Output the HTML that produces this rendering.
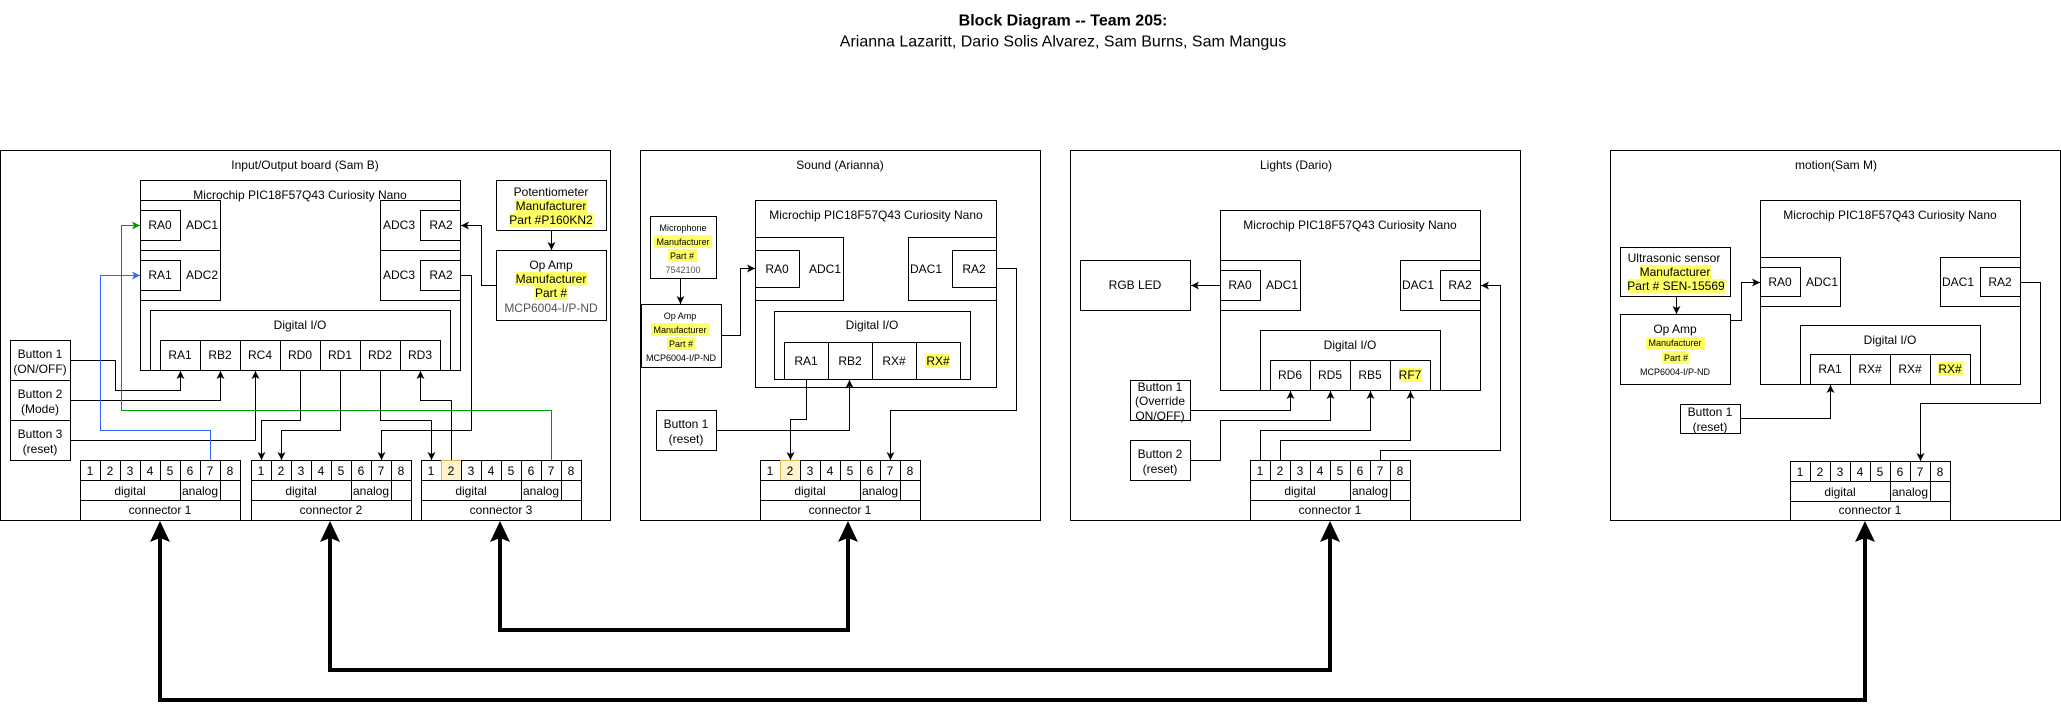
<!DOCTYPE html>
<html><head><meta charset="utf-8"><style>
html,body{margin:0;padding:0;background:#fff;}
svg{display:block;}
text{font-family:"Liberation Sans",Arial,sans-serif;font-size:12px;fill:#000;text-anchor:middle;dominant-baseline:central;}
.r{fill:#fff;stroke:#000;stroke-width:1;}
.w{fill:none;stroke:#000;stroke-width:1;}
.s{font-size:9px;}
.hl{fill:#ffff66;stroke:none;}
.g{fill:#555;}
</style></head><body>
<svg width="2061" height="712" viewBox="0 0 2061 712" xmlns="http://www.w3.org/2000/svg">
<defs>
<marker id="a" markerWidth="8" markerHeight="8" refX="8" refY="4" orient="auto" markerUnits="userSpaceOnUse"><path d="M0,0 L8,4 L0,8 L2,4 z" fill="#000"/></marker>
<marker id="ab" markerWidth="8" markerHeight="8" refX="8" refY="4" orient="auto" markerUnits="userSpaceOnUse"><path d="M0,0 L8,4 L0,8 L2,4 z" fill="#3366ff"/></marker>
<marker id="ag" markerWidth="8" markerHeight="8" refX="8" refY="4" orient="auto" markerUnits="userSpaceOnUse"><path d="M0,0 L8,4 L0,8 L2,4 z" fill="#009900"/></marker>
</defs>

<text x="1063" y="21" style="font-size:16px;font-weight:bold">Block Diagram -- Team 205:</text>
<text x="1063" y="42" style="font-size:16px">Arianna Lazaritt, Dario Solis Alvarez, Sam Burns, Sam Mangus</text>

<!-- ========== PANEL 1 ========== -->
<rect class="r" x="0.5" y="150.5" width="610" height="370"/>
<text x="305" y="165">Input/Output board (Sam B)</text>
<rect class="r" x="140.5" y="180.5" width="320" height="190"/>
<text x="300" y="195">Microchip PIC18F57Q43 Curiosity Nano</text>
<rect class="r" x="140.5" y="200.5" width="80" height="50"/>
<rect class="r" x="140.5" y="210.5" width="40" height="30"/><text x="160" y="225">RA0</text><text x="202" y="225">ADC1</text>
<rect class="r" x="140.5" y="250.5" width="80" height="50"/>
<rect class="r" x="140.5" y="260.5" width="40" height="30"/><text x="160" y="275">RA1</text><text x="202" y="275">ADC2</text>
<rect class="r" x="380.5" y="200.5" width="80" height="50"/>
<rect class="r" x="420.5" y="210.5" width="40" height="30"/><text x="441" y="225">RA2</text><text x="399" y="225">ADC3</text>
<rect class="r" x="380.5" y="250.5" width="80" height="50"/>
<rect class="r" x="420.5" y="260.5" width="40" height="30"/><text x="441" y="275">RA2</text><text x="399" y="275">ADC3</text>
<rect class="r" x="150.5" y="310.5" width="300" height="60"/>
<text x="300" y="325">Digital I/O</text>
<g>
<rect class="r" x="160.5" y="340.5" width="40" height="30"/><text x="180" y="355">RA1</text>
<rect class="r" x="200.5" y="340.5" width="40" height="30"/><text x="220" y="355">RB2</text>
<rect class="r" x="240.5" y="340.5" width="40" height="30"/><text x="260" y="355">RC4</text>
<rect class="r" x="280.5" y="340.5" width="40" height="30"/><text x="300" y="355">RD0</text>
<rect class="r" x="320.5" y="340.5" width="40" height="30"/><text x="340" y="355">RD1</text>
<rect class="r" x="360.5" y="340.5" width="40" height="30"/><text x="380" y="355">RD2</text>
<rect class="r" x="400.5" y="340.5" width="40" height="30"/><text x="420" y="355">RD3</text>
</g>
<rect class="r" x="496.5" y="180.5" width="110" height="50"/>
<text x="551" y="192">Potentiometer</text>
<rect class="hl" x="515" y="199" width="72" height="14"/><text x="551" y="206">Manufacturer</text>
<rect class="hl" x="509" y="213" width="84" height="14"/><text x="551" y="220">Part #P160KN2</text>
<rect class="r" x="496.5" y="250.5" width="110" height="70"/>
<text x="551" y="265">Op Amp</text>
<rect class="hl" x="515" y="272" width="72" height="14"/><text x="551" y="279">Manufacturer</text>
<rect class="hl" x="534" y="286" width="34" height="14"/><text x="551" y="293">Part #</text>
<text x="551" y="308" class="g">MCP6004-I/P-ND</text>

<rect class="r" x="10.5" y="340.5" width="60" height="40"/><text x="40" y="354">Button 1</text><text x="40" y="369">(ON/OFF)</text>
<rect class="r" x="10.5" y="380.5" width="60" height="40"/><text x="40" y="394">Button 2</text><text x="40" y="409">(Mode)</text>
<rect class="r" x="10.5" y="420.5" width="60" height="40"/><text x="40" y="434">Button 3</text><text x="40" y="449">(reset)</text>

<!-- connectors panel 1 -->
<g id="c1">
<rect class="r" x="80.5" y="460.5" width="160" height="60"/>
<rect class="r" x="80.5" y="460.5" width="20" height="20"/><text x="90" y="471">1</text>
<rect class="r" x="100.5" y="460.5" width="20" height="20"/><text x="110" y="471">2</text>
<rect class="r" x="120.5" y="460.5" width="20" height="20"/><text x="130" y="471">3</text>
<rect class="r" x="140.5" y="460.5" width="20" height="20"/><text x="150" y="471">4</text>
<rect class="r" x="160.5" y="460.5" width="20" height="20"/><text x="170" y="471">5</text>
<rect class="r" x="180.5" y="460.5" width="20" height="20"/><text x="190" y="471">6</text>
<rect class="r" x="200.5" y="460.5" width="20" height="20"/><text x="210" y="471">7</text>
<rect class="r" x="220.5" y="460.5" width="20" height="20"/><text x="230" y="471">8</text>
<rect class="r" x="80.5" y="480.5" width="100" height="20"/><text x="130" y="491">digital</text>
<rect class="r" x="180.5" y="480.5" width="40" height="20"/><text x="200" y="491">analog</text>
<rect class="r" x="80.5" y="500.5" width="160" height="20"/><text x="160" y="510">connector 1</text>
</g>
<g transform="translate(171,0)">
<rect class="r" x="80.5" y="460.5" width="160" height="60"/>
<rect class="r" x="80.5" y="460.5" width="20" height="20"/><text x="90" y="471">1</text>
<rect class="r" x="100.5" y="460.5" width="20" height="20"/><text x="110" y="471">2</text>
<rect class="r" x="120.5" y="460.5" width="20" height="20"/><text x="130" y="471">3</text>
<rect class="r" x="140.5" y="460.5" width="20" height="20"/><text x="150" y="471">4</text>
<rect class="r" x="160.5" y="460.5" width="20" height="20"/><text x="170" y="471">5</text>
<rect class="r" x="180.5" y="460.5" width="20" height="20"/><text x="190" y="471">6</text>
<rect class="r" x="200.5" y="460.5" width="20" height="20"/><text x="210" y="471">7</text>
<rect class="r" x="220.5" y="460.5" width="20" height="20"/><text x="230" y="471">8</text>
<rect class="r" x="80.5" y="480.5" width="100" height="20"/><text x="130" y="491">digital</text>
<rect class="r" x="180.5" y="480.5" width="40" height="20"/><text x="200" y="491">analog</text>
<rect class="r" x="80.5" y="500.5" width="160" height="20"/><text x="160" y="510">connector 2</text>
</g>
<g transform="translate(341,0)">
<rect class="r" x="80.5" y="460.5" width="160" height="60"/>
<rect class="r" x="80.5" y="460.5" width="20" height="20"/><text x="90" y="471">1</text>
<rect x="100.5" y="460.5" width="20" height="20" fill="#fff2cc" stroke="#d6b656"/><text x="110" y="471">2</text>
<rect class="r" x="120.5" y="460.5" width="20" height="20"/><text x="130" y="471">3</text>
<rect class="r" x="140.5" y="460.5" width="20" height="20"/><text x="150" y="471">4</text>
<rect class="r" x="160.5" y="460.5" width="20" height="20"/><text x="170" y="471">5</text>
<rect class="r" x="180.5" y="460.5" width="20" height="20"/><text x="190" y="471">6</text>
<rect class="r" x="200.5" y="460.5" width="20" height="20"/><text x="210" y="471">7</text>
<rect class="r" x="220.5" y="460.5" width="20" height="20"/><text x="230" y="471">8</text>
<rect class="r" x="80.5" y="480.5" width="100" height="20"/><text x="130" y="491">digital</text>
<rect class="r" x="180.5" y="480.5" width="40" height="20"/><text x="200" y="491">analog</text>
<rect class="r" x="80.5" y="500.5" width="160" height="20"/><text x="160" y="510">connector 3</text>
</g>

<!-- panel 1 wires -->
<path class="w" d="M70.5,360.5 H115.5 V390.5 H180.5 V371" marker-end="url(#a)"/>
<path class="w" d="M70.5,400.5 H220.5 V371" marker-end="url(#a)"/>
<path class="w" d="M70.5,440.5 H255.5 V371" marker-end="url(#a)"/>
<path d="M210.5,460 V430.5 H100.5 V275.5 H140" fill="none" stroke="#3366ff" marker-end="url(#ab)"/>
<path d="M551.5,460 V410.5 H121.5 V225.5 H140" fill="none" stroke="#009900" marker-end="url(#ag)"/>
<path class="w" d="M300.5,371 V420.5 H261.5 V460" marker-end="url(#a)"/>
<path class="w" d="M340.5,371 V430.5 H281.5 V460" marker-end="url(#a)"/>
<path class="w" d="M380.5,371 V420.5 H431.5 V460" marker-end="url(#a)"/>
<path class="w" d="M461,275.5 H471.5 V430.5 H381.5 V460" marker-end="url(#a)"/>
<path class="w" d="M451.5,460 V400.5 H420.5 V371" marker-end="url(#a)"/>
<path class="w" d="M496,285.5 H481.5 V225.5 H461" marker-end="url(#a)"/>
<path class="w" d="M551.5,231 V250" marker-end="url(#a)"/>

<!-- ========== PANEL 2 ========== -->
<rect class="r" x="640.5" y="150.5" width="400" height="370"/>
<text x="840" y="165">Sound (Arianna)</text>
<rect class="r" x="755.5" y="200.5" width="241" height="187"/>
<text x="876" y="215">Microchip PIC18F57Q43 Curiosity Nano</text>
<rect class="r" x="755.5" y="237.5" width="88" height="63"/>
<rect class="r" x="755.5" y="250.5" width="44" height="37"/><text x="777" y="269">RA0</text><text x="825" y="269">ADC1</text>
<rect class="r" x="908.5" y="237.5" width="88" height="63"/>
<rect class="r" x="952.5" y="250.5" width="44" height="37"/><text x="974" y="269">RA2</text><text x="926" y="269">DAC1</text>
<rect class="r" x="774.5" y="311.5" width="196" height="68"/>
<text x="872" y="325">Digital I/O</text>
<rect class="r" x="784.5" y="342.5" width="44" height="37"/><text x="806" y="361">RA1</text>
<rect class="r" x="828.5" y="342.5" width="44" height="37"/><text x="850" y="361">RB2</text>
<rect class="r" x="872.5" y="342.5" width="44" height="37"/><text x="894" y="361">RX#</text>
<rect class="r" x="916.5" y="342.5" width="44" height="37"/>
<rect class="hl" x="925" y="354" width="24" height="14"/><text x="938" y="361">RX#</text>
<rect class="r" x="650.5" y="216.5" width="66" height="62"/>
<text x="683" y="228" class="s">Microphone</text>
<rect class="hl" x="654" y="235" width="58" height="13"/><text x="683" y="242" class="s">Manufacturer</text>
<rect class="hl" x="668" y="249" width="29" height="13"/><text x="682" y="256" class="s">Part #</text>
<text x="683" y="270" class="s g">7542100</text>
<rect class="r" x="641.5" y="304.5" width="80" height="63"/>
<text x="680" y="316" class="s">Op Amp</text>
<rect class="hl" x="651" y="323" width="59" height="13"/><text x="680" y="330" class="s">Manufacturer</text>
<rect class="hl" x="667" y="337" width="28" height="13"/><text x="681" y="344" class="s">Part #</text>
<text x="681" y="358" class="s">MCP6004-I/P-ND</text>
<rect class="r" x="656.5" y="410.5" width="60" height="40"/><text x="686" y="424">Button 1</text><text x="686" y="439">(reset)</text>
<g transform="translate(680,0)">
<rect class="r" x="80.5" y="460.5" width="160" height="60"/>
<rect class="r" x="80.5" y="460.5" width="20" height="20"/><text x="90" y="471">1</text>
<rect x="100.5" y="460.5" width="20" height="20" fill="#fff2cc" stroke="#d6b656"/><text x="110" y="471">2</text>
<rect class="r" x="120.5" y="460.5" width="20" height="20"/><text x="130" y="471">3</text>
<rect class="r" x="140.5" y="460.5" width="20" height="20"/><text x="150" y="471">4</text>
<rect class="r" x="160.5" y="460.5" width="20" height="20"/><text x="170" y="471">5</text>
<rect class="r" x="180.5" y="460.5" width="20" height="20"/><text x="190" y="471">6</text>
<rect class="r" x="200.5" y="460.5" width="20" height="20"/><text x="210" y="471">7</text>
<rect class="r" x="220.5" y="460.5" width="20" height="20"/><text x="230" y="471">8</text>
<rect class="r" x="80.5" y="480.5" width="100" height="20"/><text x="130" y="491">digital</text>
<rect class="r" x="180.5" y="480.5" width="40" height="20"/><text x="200" y="491">analog</text>
<rect class="r" x="80.5" y="500.5" width="160" height="20"/><text x="160" y="510">connector 1</text>
</g>
<path class="w" d="M680.5,279 V304" marker-end="url(#a)"/>
<path class="w" d="M721,335.5 H740.5 V268.5 H755" marker-end="url(#a)"/>
<path class="w" d="M806.5,380 V419.5 H790.5 V460" marker-end="url(#a)"/>
<path class="w" d="M716,430.5 H849.5 V380" marker-end="url(#a)"/>
<path class="w" d="M997,268.5 H1016.5 V410.5 H890.5 V460" marker-end="url(#a)"/>

<!-- ========== PANEL 3 ========== -->
<rect class="r" x="1070.5" y="150.5" width="450" height="370"/>
<text x="1296" y="165">Lights (Dario)</text>
<rect class="r" x="1220.5" y="210.5" width="260" height="180"/>
<text x="1350" y="225">Microchip PIC18F57Q43 Curiosity Nano</text>
<rect class="r" x="1220.5" y="260.5" width="80" height="50"/>
<rect class="r" x="1220.5" y="270.5" width="40" height="30"/><text x="1240" y="285">RA0</text><text x="1282" y="285">ADC1</text>
<rect class="r" x="1400.5" y="260.5" width="80" height="50"/>
<rect class="r" x="1440.5" y="270.5" width="40" height="30"/><text x="1460" y="285">RA2</text><text x="1418" y="285">DAC1</text>
<rect class="r" x="1080.5" y="260.5" width="110" height="50"/><text x="1135" y="285">RGB LED</text>
<rect class="r" x="1260.5" y="330.5" width="180" height="60"/>
<text x="1350" y="345">Digital I/O</text>
<rect class="r" x="1270.5" y="360.5" width="40" height="30"/><text x="1290" y="375">RD6</text>
<rect class="r" x="1310.5" y="360.5" width="40" height="30"/><text x="1330" y="375">RD5</text>
<rect class="r" x="1350.5" y="360.5" width="40" height="30"/><text x="1370" y="375">RB5</text>
<rect class="r" x="1390.5" y="360.5" width="40" height="30"/>
<rect class="hl" x="1399" y="368" width="23" height="14"/><text x="1410" y="375">RF7</text>
<rect class="r" x="1130.5" y="380.5" width="60" height="40"/>
<text x="1160" y="387">Button 1</text><text x="1160" y="401">(Override</text><text x="1160" y="416">ON/OFF)</text>
<rect class="r" x="1130.5" y="440.5" width="60" height="40"/><text x="1160" y="454">Button 2</text><text x="1160" y="469">(reset)</text>
<g transform="translate(1170,0)">
<rect class="r" x="80.5" y="460.5" width="160" height="60"/>
<rect class="r" x="80.5" y="460.5" width="20" height="20"/><text x="90" y="471">1</text>
<rect class="r" x="100.5" y="460.5" width="20" height="20"/><text x="110" y="471">2</text>
<rect class="r" x="120.5" y="460.5" width="20" height="20"/><text x="130" y="471">3</text>
<rect class="r" x="140.5" y="460.5" width="20" height="20"/><text x="150" y="471">4</text>
<rect class="r" x="160.5" y="460.5" width="20" height="20"/><text x="170" y="471">5</text>
<rect class="r" x="180.5" y="460.5" width="20" height="20"/><text x="190" y="471">6</text>
<rect class="r" x="200.5" y="460.5" width="20" height="20"/><text x="210" y="471">7</text>
<rect class="r" x="220.5" y="460.5" width="20" height="20"/><text x="230" y="471">8</text>
<rect class="r" x="80.5" y="480.5" width="100" height="20"/><text x="130" y="491">digital</text>
<rect class="r" x="180.5" y="480.5" width="40" height="20"/><text x="200" y="491">analog</text>
<rect class="r" x="80.5" y="500.5" width="160" height="20"/><text x="160" y="510">connector 1</text>
</g>
<path class="w" d="M1220,285.5 H1191" marker-end="url(#a)"/>
<path class="w" d="M1190,410.5 H1290.5 V391" marker-end="url(#a)"/>
<path class="w" d="M1190,460.5 H1220.5 V420.5 H1330.5 V391" marker-end="url(#a)"/>
<path class="w" d="M1260.5,460 V430.5 H1370.5 V391" marker-end="url(#a)"/>
<path class="w" d="M1280.5,460 V440.5 H1410.5 V391" marker-end="url(#a)"/>
<path class="w" d="M1380.5,460 V450.5 H1500.5 V285.5 H1481" marker-end="url(#a)"/>

<!-- ========== PANEL 4 ========== -->
<rect class="r" x="1610.5" y="150.5" width="450" height="370"/>
<text x="1836" y="165">motion(Sam M)</text>
<rect class="r" x="1760.5" y="200.5" width="260" height="184"/>
<text x="1890" y="215">Microchip PIC18F57Q43 Curiosity Nano</text>
<rect class="r" x="1760.5" y="257.5" width="80" height="49"/>
<rect class="r" x="1760.5" y="267.5" width="40" height="29"/><text x="1780" y="282">RA0</text><text x="1822" y="282">ADC1</text>
<rect class="r" x="1940.5" y="257.5" width="80" height="49"/>
<rect class="r" x="1980.5" y="267.5" width="40" height="29"/><text x="2000" y="282">RA2</text><text x="1958" y="282">DAC1</text>
<rect class="r" x="1800.5" y="325.5" width="180" height="59"/>
<text x="1890" y="340">Digital I/O</text>
<rect class="r" x="1810.5" y="354.5" width="40" height="30"/><text x="1830" y="369">RA1</text>
<rect class="r" x="1850.5" y="354.5" width="40" height="30"/><text x="1870" y="369">RX#</text>
<rect class="r" x="1890.5" y="354.5" width="40" height="30"/><text x="1910" y="369">RX#</text>
<rect class="r" x="1930.5" y="354.5" width="40" height="30"/>
<rect class="hl" x="1938" y="362" width="25" height="14"/><text x="1950" y="369">RX#</text>
<rect class="r" x="1620.5" y="247.5" width="110" height="49"/>
<text x="1674" y="258">Ultrasonic sensor</text>
<rect class="hl" x="1640" y="265" width="71" height="14"/><text x="1675" y="272">Manufacturer</text>
<rect class="hl" x="1627" y="279" width="98" height="14"/><text x="1676" y="286">Part # SEN-15569</text>
<rect class="r" x="1620.5" y="314.5" width="110" height="70"/>
<text x="1675" y="329">Op Amp</text>
<rect class="hl" x="1646" y="337" width="59" height="13"/><text x="1675" y="343" class="s">Manufacturer</text>
<rect class="hl" x="1662" y="351" width="28" height="13"/><text x="1676" y="358" class="s">Part #</text>
<text x="1675" y="372" class="s">MCP6004-I/P-ND</text>
<rect class="r" x="1680.5" y="404.5" width="60" height="29"/><text x="1710" y="412">Button 1</text><text x="1710" y="427">(reset)</text>
<g transform="translate(1710,1)">
<rect class="r" x="80.5" y="460.5" width="160" height="59"/>
<rect class="r" x="80.5" y="460.5" width="20" height="20"/><text x="90" y="471">1</text>
<rect class="r" x="100.5" y="460.5" width="20" height="20"/><text x="110" y="471">2</text>
<rect class="r" x="120.5" y="460.5" width="20" height="20"/><text x="130" y="471">3</text>
<rect class="r" x="140.5" y="460.5" width="20" height="20"/><text x="150" y="471">4</text>
<rect class="r" x="160.5" y="460.5" width="20" height="20"/><text x="170" y="471">5</text>
<rect class="r" x="180.5" y="460.5" width="20" height="20"/><text x="190" y="471">6</text>
<rect class="r" x="200.5" y="460.5" width="20" height="20"/><text x="210" y="471">7</text>
<rect class="r" x="220.5" y="460.5" width="20" height="20"/><text x="230" y="471">8</text>
<rect class="r" x="80.5" y="480.5" width="100" height="20"/><text x="130" y="491">digital</text>
<rect class="r" x="180.5" y="480.5" width="40" height="20"/><text x="200" y="491">analog</text>
<rect class="r" x="80.5" y="500.5" width="160" height="19"/><text x="160" y="509">connector 1</text>
</g>
<path class="w" d="M1676.5,297 V314" marker-end="url(#a)"/>
<path class="w" d="M1730,320.5 H1741.5 V282.5 H1760" marker-end="url(#a)"/>
<path class="w" d="M1740,418.5 H1830.5 V385" marker-end="url(#a)"/>
<path class="w" d="M2021,282.5 H2040.5 V403.5 H1920.5 V461" marker-end="url(#a)"/>

<!-- ========== BIG ARROWS ========== -->
<g fill="none" stroke="#000" stroke-width="4">
<path d="M500,538 V630 H848 V538"/>
<path d="M330,538 V670 H1330 V538"/>
<path d="M160,538 V700 H1865 V538"/>
</g>
<g fill="#000">
<path d="M160,521 L170,542 L160,538 L150,542 z"/>
<path d="M330,521 L340,542 L330,538 L320,542 z"/>
<path d="M500,521 L510,542 L500,538 L490,542 z"/>
<path d="M848,521 L858,542 L848,538 L838,542 z"/>
<path d="M1330,521 L1340,542 L1330,538 L1320,542 z"/>
<path d="M1865,521 L1875,542 L1865,538 L1855,542 z"/>
</g>
</svg>
</body></html>
